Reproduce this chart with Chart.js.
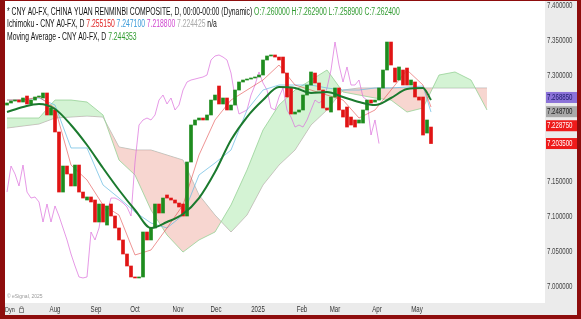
<!DOCTYPE html>
<html>
<head>
<meta charset="utf-8">
<script src="https://cdn.jsdelivr.net/npm/chart.js@4.4.1/dist/chart.umd.min.js"></script>
<style>
  html, body { margin: 0; padding: 0; width: 581px; height: 319px; overflow: hidden; background: #8e0d0d; }
  #wrap { position: absolute; left: 5px; top: 1px; width: 572px; height: 314px; }
</style>
</head>
<body>
<div id="wrap"><canvas id="chart" width="572" height="314"></canvas></div>
<script>
// candle data (one bar per slot, Jul 2024 - May 2025)
const opens = [
  7.2581, 7.2610, 7.2638, 7.2652, 7.2624, 7.2709, 7.2596, 7.2652, 7.2695, 7.2681,
  7.2752, 7.2440, 7.2511, 7.2199, 7.1347, 7.1716, 7.1603, 7.1433, 7.1730, 7.1347,
  7.1234, 7.1277, 7.1234, 7.0922, 7.1177, 7.0879, 7.1177, 7.1007, 7.0837, 7.0667,
  7.0468, 7.0298, 7.0142, 7.0128, 7.0142, 7.0780, 7.0667, 7.0837, 7.1177, 7.1050,
  7.1305, 7.1262, 7.1234, 7.1191, 7.1177, 7.1007, 7.1773, 7.2298, 7.2369, 7.2397,
  7.2369, 7.2440, 7.2652, 7.2851, 7.2596, 7.2681, 7.2511, 7.2581, 7.2794, 7.2908,
  7.2936, 7.2950, 7.2965, 7.2979, 7.3007, 7.3220, 7.3277, 7.3291, 7.3262, 7.3262,
  7.3035, 7.2823, 7.2454, 7.2482, 7.2511, 7.2723, 7.2865, 7.3035, 7.2894, 7.2794,
  7.2539, 7.2482, 7.2695, 7.2823, 7.2511, 7.2553, 7.2411, 7.2369, 7.2326, 7.2326,
  7.2511, 7.2652, 7.2624, 7.2652, 7.2823, 7.3078, 7.3475, 7.3106, 7.2936, 7.3078,
  7.3106, 7.2865, 7.2908, 7.2695, 7.2695, 7.2184, 7.2269
];
const closes = [
  7.2610, 7.2638, 7.2652, 7.2624, 7.2681, 7.2596, 7.2652, 7.2695, 7.2709, 7.2752,
  7.2440, 7.2539, 7.2199, 7.1347, 7.1716, 7.1603, 7.1433, 7.1730, 7.1347, 7.1262,
  7.1277, 7.1206, 7.0922, 7.1177, 7.0922, 7.1149, 7.1007, 7.0837, 7.0667, 7.0468,
  7.0298, 7.0142, 7.0128, 7.0142, 7.0780, 7.0667, 7.0837, 7.1177, 7.1050, 7.1262,
  7.1262, 7.1234, 7.1191, 7.1135, 7.1007, 7.1773, 7.2298, 7.2369, 7.2397, 7.2369,
  7.2440, 7.2652, 7.2723, 7.2596, 7.2681, 7.2511, 7.2581, 7.2794, 7.2908, 7.2936,
  7.2950, 7.2965, 7.2979, 7.3007, 7.3220, 7.3277, 7.3291, 7.3262, 7.3220, 7.3035,
  7.2695, 7.2454, 7.2482, 7.2511, 7.2723, 7.2865, 7.3050, 7.2894, 7.2794, 7.2539,
  7.2511, 7.2695, 7.2823, 7.2511, 7.2411, 7.2269, 7.2298, 7.2269, 7.2369, 7.2511,
  7.2652, 7.2610, 7.2652, 7.2823, 7.3078, 7.3475, 7.3149, 7.2908, 7.3121, 7.2865,
  7.2865, 7.2936, 7.2695, 7.2652, 7.2156, 7.2369, 7.2035
];

// indicator lines, sampled every 4 bars
const lineIdx = [0, 4, 8, 12, 16, 20, 24, 28, 32, 36, 40, 44, 48, 52, 56, 60, 64, 68, 72, 76, 80, 84, 88, 92, 96, 100, 104, 106];
const maValues = [
  7.2482, 7.2553, 7.2596, 7.2525, 7.2298, 7.2014, 7.1688, 7.1376, 7.1092, 7.0837,
  7.0922, 7.1035, 7.1262, 7.1631, 7.2085, 7.2411, 7.2652, 7.2837, 7.2823, 7.2752,
  7.2766, 7.2695, 7.2624, 7.2581, 7.2681, 7.2808, 7.2823, 7.2652
];
const tenkan = [
  7.2652, 7.2652, 7.2695, 7.2539, 7.1730, 7.1518, 7.1163, 7.1021, 7.0454, 7.0525,
  7.0837, 7.1163, 7.1872, 7.2369, 7.2652, 7.2794, 7.2936, 7.3149, 7.2865, 7.2794,
  7.2723, 7.2652, 7.2397, 7.2511, 7.2794, 7.3078, 7.2865, 7.2553
];
const kijun = [
  7.2652, 7.2652, 7.2681, 7.2581, 7.1972, 7.1972, 7.1447, 7.1262, 7.1064, 7.0908,
  7.0837, 7.1021, 7.1589, 7.1759, 7.1943, 7.2511, 7.2794, 7.2865, 7.2865, 7.2865,
  7.2823, 7.2794, 7.2794, 7.2823, 7.2823, 7.2837, 7.2851, 7.2482
];
const chikouShift = 13;

// cloud (senkou spans), runs 13 bars past the last candle
const cloudIdx = [0, 4, 8, 12, 16, 20, 24, 28, 32, 36, 40, 44, 48, 52, 56, 60, 64, 68, 72, 76, 80, 84, 88, 92, 96, 100, 104, 108, 112, 116, 120];
const spanA = [
  7.2397, 7.2397, 7.2397, 7.2652, 7.2652, 7.2624, 7.2440, 7.1801, 7.1589, 7.1092,
  7.0738, 7.0496, 7.0667, 7.0780, 7.1163, 7.1660, 7.2227, 7.2581, 7.2794, 7.2936,
  7.3078, 7.2766, 7.2723, 7.2681, 7.2652, 7.2482, 7.2539, 7.3007, 7.3050, 7.2936, 7.2511
];
const spanB = [
  7.2255, 7.2284, 7.2312, 7.2397, 7.2411, 7.2425, 7.2411, 7.1986, 7.1943, 7.1943,
  7.1872, 7.1801, 7.1305, 7.1021, 7.0780, 7.1021, 7.1447, 7.1730, 7.1943, 7.2298,
  7.2511, 7.2794, 7.2823, 7.2823, 7.2823, 7.2823, 7.2823, 7.2823, 7.2823, 7.2823, 7.2823
];

// axes
const yTicks = [7.00, 7.05, 7.10, 7.15, 7.20, 7.25, 7.30, 7.35, 7.40];
const xTickPos = [12, 22.25, 32, 42.75, 52.25, 62.75, 73.75, 82, 92.5, 102.5];
const xTickLabels = ['Aug', 'Sep', 'Oct', 'Nov', 'Dec', '2025', 'Feb', 'Mar', 'Apr', 'May'];

// last-value boxes on the price scale
const priceTags = [7.268850, 7.248700, 7.228750, 7.203500];
const priceTagBg = ['#8b72d8', '#a9a9a9', '#ee1b1b', '#ee1b1b'];
const priceTagFg = ['#1c1c6a', '#1a1a1a', '#ffffff', '#ffffff'];

const legendLines = [
  [['* CNY A0-FX, CHINA YUAN RENMINBI COMPOSITE, D, 00:00-00:00 (Dynamic) ', '#111'],
   ['O:7.260000 H:7.262900 L:7.258900 C:7.262400', '#2f9a2f']],
  [['Ichimoku - CNY A0-FX, D ', '#111'], ['7.255150 ', '#e02424'], ['7.247100 ', '#3a9ad9'],
   ['7.218800 ', '#d048d0'], ['7.224425 ', '#aaaaaa'], ['n/a', '#111']],
  [['Moving Average - CNY A0-FX, D ', '#111'], ['7.244353', '#2f9a2f']]
];

const FONT = "'Liberation Sans', Arial, sans-serif";
const SQUEEZE = 0.68; // the screenshot is squashed horizontally

const toPts = (idx, vals) => idx.map((x, k) => ({ x: x, y: vals[k] }));

// draw text narrowed horizontally
function narrowText(ctx, txt, x, y, align) {
  const w = ctx.measureText(txt).width * SQUEEZE;
  let left = x;
  if (align === 'center') left = x - w / 2;
  if (align === 'right') left = x - w;
  ctx.save();
  ctx.translate(left, y);
  ctx.scale(SQUEEZE, 1);
  ctx.textAlign = 'left';
  ctx.fillText(txt, 0, 0);
  ctx.restore();
  return w;
}

const backdrop = {
  id: 'backdrop',
  beforeDraw(chart) {
    const { ctx, chartArea: a } = chart;
    ctx.save();
    ctx.fillStyle = '#ebebeb';
    ctx.fillRect(0, 0, chart.width, chart.height);
    ctx.fillStyle = '#ffffff';
    ctx.fillRect(a.left, a.top, a.right - a.left, a.bottom - a.top);
    ctx.restore();
  }
};

const overlay = {
  id: 'overlay',
  afterDraw(chart) {
    const { ctx, chartArea: a } = chart;
    const y = chart.scales.y;
    const x = chart.scales.x;
    ctx.save();
    ctx.textBaseline = 'middle';

    // legend text
    ctx.font = '10px ' + FONT;
    legendLines.forEach((runs, li) => {
      let px = 2;
      runs.forEach(([txt, col]) => {
        ctx.fillStyle = col;
        px += narrowText(ctx, txt, px, 11 + li * 12.5, 'left');
      });
    });

    // price scale labels
    ctx.font = '9px ' + FONT;
    ctx.fillStyle = '#444';
    yTicks.forEach(v => {
      narrowText(ctx, v.toFixed(6), a.right + 2, y.getPixelForValue(v), 'left');
    });

    // month labels
    ctx.fillStyle = '#333';
    xTickPos.forEach((v, k) => {
      narrowText(ctx, xTickLabels[k], x.getPixelForValue(v), a.bottom + 6.5, 'center');
    });

    // price tags
    priceTags.forEach((v, k) => {
      const py = y.getPixelForValue(v);
      ctx.fillStyle = priceTagBg[k];
      ctx.fillRect(a.right + 1, py - 5.5, chart.width - a.right - 1, 11);
      ctx.fillStyle = priceTagFg[k];
      narrowText(ctx, v.toFixed(6), a.right + 2, py, 'left');
    });

    // footer bits
    ctx.fillStyle = '#9a9a9a';
    ctx.font = '5px ' + FONT;
    ctx.fillText('\u00a9 eSignal, 2025', 2, 296);
    ctx.fillStyle = '#333';
    ctx.font = '8px ' + FONT;
    narrowText(ctx, 'Dyn', 0, a.bottom + 6.5, 'left');
    ctx.strokeStyle = '#888';
    ctx.lineWidth = 1;
    ctx.strokeRect(14.5, a.bottom + 5.5, 4, 4);
    ctx.beginPath();
    ctx.arc(16.5, a.bottom + 5, 1.5, Math.PI, 0);
    ctx.stroke();
    ctx.restore();
  }
};

const ctx = document.getElementById('chart').getContext('2d');
const chart = new Chart(ctx, {
  type: 'bar',
  data: {
    datasets: [{
      type: 'line',
      label: 'Moving Average',
      data: toPts(lineIdx, maValues),
      borderColor: '#1b7a2e',
      borderWidth: 2,
      pointRadius: 0,
      cubicInterpolationMode: 'monotone',
      order: 0
    }, {
      type: 'bar',
      label: 'CNY A0-FX',
      data: opens.map((o, i) => ({ x: i, y: [o, closes[i]] })),
      backgroundColor: opens.map((o, i) => closes[i] >= o ? '#1e8c1e' : '#e01414'),
      barThickness: 3,
      minBarLength: 1,
      order: 1
    }, {
      type: 'line',
      label: 'Tenkan',
      data: toPts(lineIdx, tenkan),
      borderColor: 'rgba(224, 60, 60, 0.55)',
      borderWidth: 1,
      pointRadius: 0,
      order: 2
    }, {
      type: 'line',
      label: 'Kijun',
      data: toPts(lineIdx, kijun),
      borderColor: 'rgba(100, 185, 225, 0.7)',
      borderWidth: 1,
      pointRadius: 0,
      order: 3
    }, {
      type: 'line',
      label: 'Chikou',
      data: closes.slice(chikouShift).map((c, k) => ({ x: k, y: c })),
      borderColor: 'rgba(220, 110, 220, 0.7)',
      borderWidth: 1,
      pointRadius: 0,
      order: 4
    }, {
      type: 'line',
      label: 'Senkou A',
      data: toPts(cloudIdx, spanA),
      borderColor: 'rgba(150, 210, 150, 0.8)',
      borderWidth: 1,
      pointRadius: 0,
      fill: { target: 6, above: 'rgba(170, 232, 170, 0.5)', below: 'rgba(240, 180, 170, 0.55)' },
      order: 5
    }, {
      type: 'line',
      label: 'Senkou B',
      data: toPts(cloudIdx, spanB),
      borderColor: 'rgba(190, 190, 190, 0.9)',
      borderWidth: 1,
      pointRadius: 0,
      order: 6
    }]
  },
  options: {
    responsive: false,
    animation: false,
    layout: { padding: 0 },
    plugins: { legend: { display: false }, tooltip: { enabled: false } },
    scales: {
      x: {
        type: 'linear',
        min: -0.5,
        max: 134.5,
        offset: false,
        grid: { display: false },
        border: { display: false },
        ticks: { display: false },
        afterFit: s => { s.height = 12; }
      },
      y: {
        position: 'right',
        min: 6.9773,
        max: 7.4057,
        grid: { display: false },
        border: { display: false },
        ticks: { display: false },
        afterFit: s => { s.width = 32; }
      }
    }
  },
  plugins: [backdrop, overlay]
});
</script>
</body>
</html>
